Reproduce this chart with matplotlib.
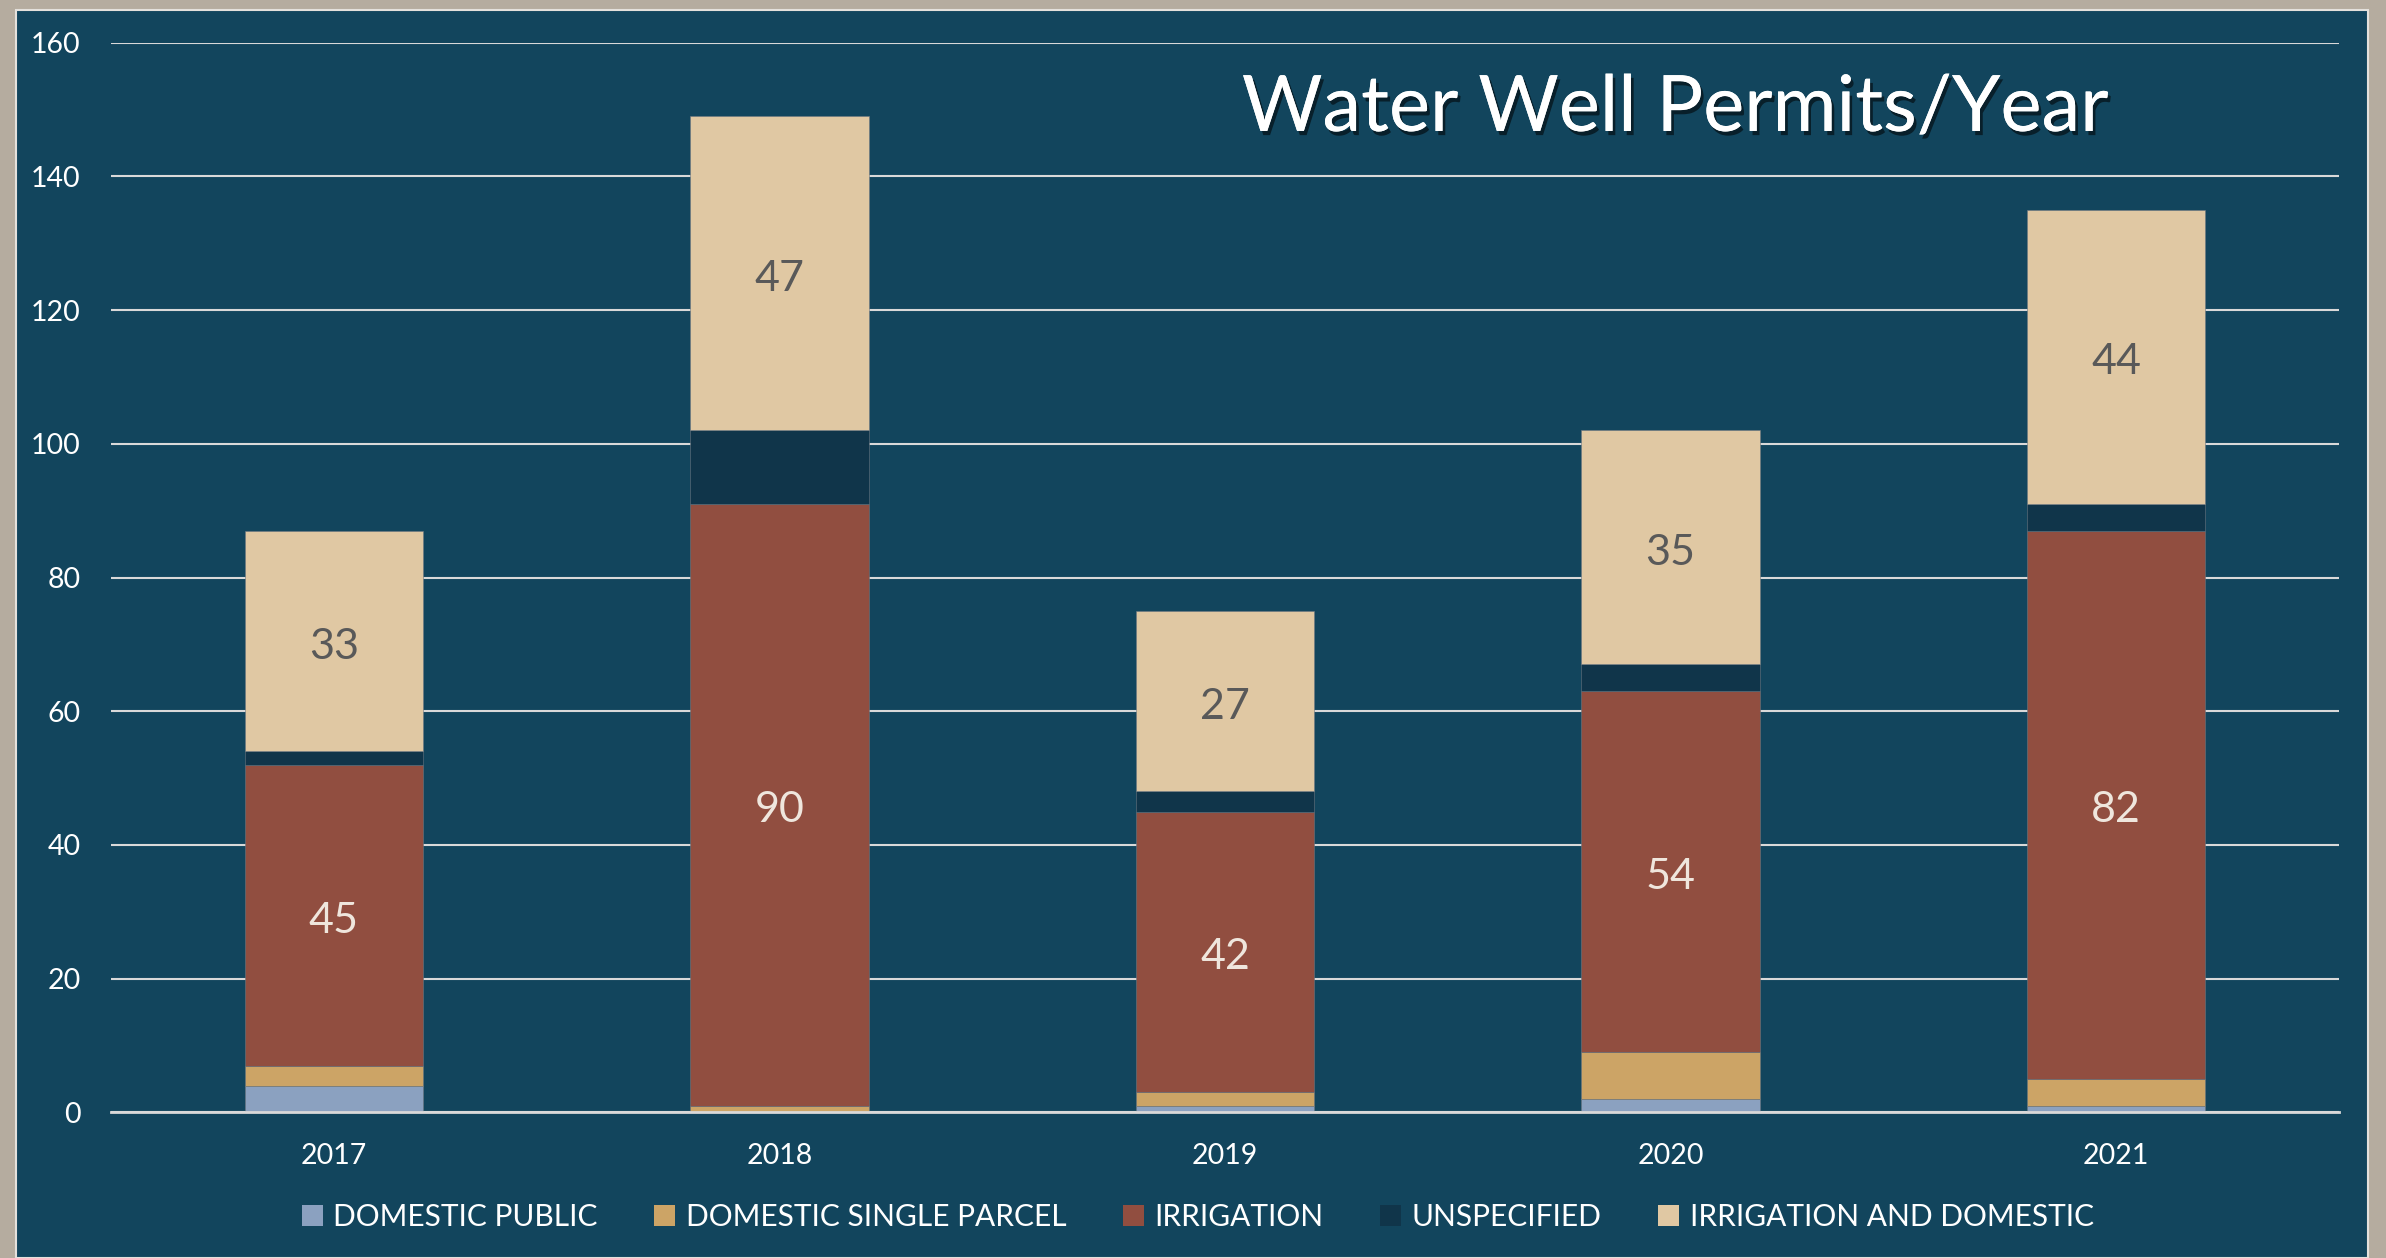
import matplotlib.pyplot as plt
import matplotlib.patheffects as pe
from matplotlib.patches import Rectangle
import numpy as np

# data
years = ['2017', '2018', '2019', '2020', '2021']
domestic_public = [4, 0, 1, 2, 1]
domestic_single = [3, 1, 2, 7, 4]
irrigation = [45, 90, 42, 54, 82]
unspecified = [2, 11, 3, 4, 4]
irr_and_dom = [33, 47, 27, 35, 44]

series = [
    ('DOMESTIC PUBLIC', domestic_public, '#8BA1C0'),
    ('DOMESTIC SINGLE PARCEL', domestic_single, '#CCA466'),
    ('IRRIGATION', irrigation, '#914E40'),
    ('UNSPECIFIED', unspecified, '#10354A'),
    ('IRRIGATION AND DOMESTIC', irr_and_dom, '#E0C8A3'),
]
panel = '#12455D'

plt.rcParams['font.family'] = ['Lato', 'DejaVu Sans']

fig = plt.figure(figsize=(23.86, 12.58), dpi=100)
fig.patch.set_facecolor('#B5AC9F')
W, H = 2386, 1258
# dark panel behind the chart
fig.patches.append(Rectangle((16 / W, 0), (2368 - 16) / W, (H - 10) / H,
                             transform=fig.transFigure, facecolor=panel,
                             edgecolor='#E4E1DC', linewidth=1.5, zorder=-10))

ax = fig.add_axes([111 / W, (H - 1112.4) / H, (2339 - 111) / W, (1112.4 - 42.6) / H])
ax.set_facecolor('none')

x = np.arange(len(years))
bottom = np.zeros(len(years))
for name, vals, col in series:
    vals = np.array(vals)
    ax.bar(x, vals, 0.4, bottom=bottom, color=col, label=name,
           edgecolor='#6b7680', linewidth=0.4, zorder=3)
    if name in ('IRRIGATION', 'IRRIGATION AND DOMESTIC'):
        tc = '#EFE6DD' if name == 'IRRIGATION' else '#595959'
        for xi, b, v in zip(x, bottom, vals):
            ax.annotate(str(v), (xi, b + v / 2), xytext=(0, -4), textcoords='offset points',
                        ha='center', va='center', fontsize=31, color=tc, zorder=4)
    bottom += vals

ax.set_xlim(-0.5, 4.5)
ax.set_ylim(0, 160)
ax.set_yticks(range(0, 161, 20))
ax.set_xticks(x)
ax.set_xticklabels(years)
ax.grid(axis='y', color='#D9D9D9', linewidth=1.5, zorder=1)
ax.set_axisbelow(True)
for s in ['top', 'right', 'left']:
    ax.spines[s].set_visible(False)
ax.spines['bottom'].set_color('#D9D9D9')
ax.spines['bottom'].set_linewidth(2)
ax.spines['bottom'].set_zorder(5)
ax.tick_params(axis='both', length=0, colors='white', labelsize=20.5)
ax.tick_params(axis='y', pad=22)
ax.tick_params(axis='x', pad=22)

fig.text(0.702, 0.913, 'Water Well Permits/Year', ha='center', va='center',
         fontsize=56, color='white',
         path_effects=[pe.withSimplePatchShadow(offset=(2, -3), shadow_rgbFace='black', alpha=0.55),
                       pe.Normal()])

leg = fig.legend(loc='center', bbox_to_anchor=(0.502, 0.0326), ncol=5, frameon=False,
                 fontsize=21.5, handlelength=0.7, handleheight=0.7, handletextpad=0.35,
                 columnspacing=1.9, labelcolor='white')
for h in leg.legend_handles:
    h.set_edgecolor('none')

fig.savefig('out.png', dpi=100, facecolor=fig.get_facecolor())
